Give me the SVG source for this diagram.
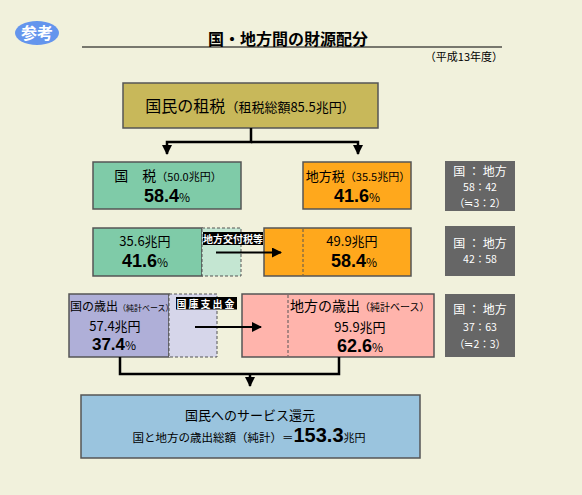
<svg xmlns="http://www.w3.org/2000/svg" width="582" height="495" viewBox="0 0 582 495">
<defs>
<style>
text{font-family:"Noto Sans CJK JP","Noto Sans",sans-serif;fill:#000}
.num{font-family:"Liberation Sans",Arial,sans-serif;font-weight:bold}
.box{stroke:#555;stroke-width:1.5}
.dash{stroke:#555;stroke-width:1;stroke-dasharray:3,2}
.gray{fill:#666666}
.gt{fill:#fff;font-size:10.5px;text-anchor:middle}
.lab{fill:#fff;font-size:10px;font-weight:bold;text-anchor:middle}
.c{fill:none;stroke:#000;stroke-width:2.5}
.a{fill:none;stroke:#000;stroke-width:2}
.mid{text-anchor:middle}
</style>
<marker id="ah" viewBox="0 0 10 10" refX="9" refY="5" markerWidth="4" markerHeight="4" orient="auto" markerUnits="strokeWidth"><path d="M0,0 L10,5 L0,10 Z" fill="#000"/></marker>
<marker id="ah2" viewBox="0 0 10 10" refX="9" refY="5" markerWidth="5" markerHeight="5" orient="auto" markerUnits="strokeWidth"><path d="M0,0 L10,5 L0,10 Z" fill="#000"/></marker>
</defs>
<rect width="582" height="495" fill="#F1F1DC"/>

<g id="badge">
<ellipse cx="37" cy="33" rx="22" ry="12" fill="#6495ED"/>
<text x="37" y="39" class="mid" style="fill:#fff;font-size:16px;font-weight:bold">参考</text>
</g>
<g id="title">
<text x="288" y="45" class="mid" style="font-size:16px;font-weight:bold">国・地方間の財源配分</text>
<line x1="82" y1="47" x2="502" y2="47" stroke="#000" stroke-width="1.2"/>
<text x="503" y="61" style="font-size:11px;text-anchor:end">（平成13年度）</text>
</g>

<g id="tax-total">
<rect class="box" x="123" y="83" width="255" height="45" fill="#C8B85A"/>
<text x="250" y="112" class="mid"><tspan style="font-size:16px">国民の租税</tspan><tspan style="font-size:13px">（租税総額85.5兆円）</tspan></text>
</g>

<g id="national-tax">
<rect class="box" x="93" y="162" width="148" height="47" fill="#7FCBA8"/>
<text x="168" y="181" class="mid"><tspan style="font-size:14px">国　税</tspan><tspan style="font-size:11px">（50.0兆円）</tspan></text>
<text x="167" y="202" class="mid"><tspan class="num" style="font-size:18px">58.4</tspan><tspan style="font-size:12px">%</tspan></text>
</g>

<g id="local-tax">
<rect class="box" x="303" y="162" width="108" height="47" fill="#FFA81C"/>
<text x="358" y="181" class="mid"><tspan style="font-size:13px">地方税</tspan><tspan style="font-size:11px">（35.5兆円）</tspan></text>
<text x="357" y="202" class="mid"><tspan class="num" style="font-size:18px">41.6</tspan><tspan style="font-size:12px">%</tspan></text>
</g>

<g id="ratio1">
<rect class="gray" x="445" y="161" width="70" height="50"/>
<text x="480" y="176" class="gt" style="font-size:12px">国 ： 地方</text>
<text x="480" y="191" class="gt">58：42</text>
<text x="480" y="207" class="gt">（≒3：2）</text>
</g>

<g id="national-after">
<rect class="box" x="93" y="228" width="109" height="48" fill="#7FCBA8"/>
<text x="145" y="246" class="mid" style="font-size:13px">35.6兆円</text>
<text x="145" y="267" class="mid"><tspan class="num" style="font-size:18px">41.6</tspan><tspan style="font-size:12px">%</tspan></text>
</g>
<g id="transfer">
<rect class="dash" x="202" y="228" width="39" height="48" fill="#C4E6D2"/>
<rect x="203" y="232" width="60" height="13" fill="#000"/>
<text x="233" y="242.5" class="lab">地方交付税等</text>
</g>
<g id="local-after">
<rect class="box" x="264" y="228" width="147" height="48" fill="#FFA81C"/>
<line class="dash" x1="303" y1="229" x2="303" y2="275"/>
<text x="352" y="246" class="mid" style="font-size:13px">49.9兆円</text>
<text x="354" y="267" class="mid"><tspan class="num" style="font-size:18px">58.4</tspan><tspan style="font-size:12px">%</tspan></text>
</g>

<g id="ratio2">
<rect class="gray" x="445" y="226" width="70" height="50"/>
<text x="480" y="248" class="gt" style="font-size:12px">国 ： 地方</text>
<text x="480" y="263" class="gt">42：58</text>
</g>

<g id="national-exp">
<rect class="box" x="69" y="294" width="100" height="63" fill="#AFAFD8"/>
<text x="70" y="311" style="font-size:12px">国の歳出<tspan style="font-size:8px">（純計ベース）</tspan></text>
<text x="115" y="331" class="mid" style="font-size:13px">57.4兆円</text>
<text x="114" y="350" class="mid"><tspan class="num" style="font-size:17px">37.4</tspan><tspan style="font-size:12px">%</tspan></text>
</g>
<g id="subsidy">
<rect class="dash" x="169" y="294" width="48" height="63" fill="#D6D6EA"/>
<rect x="176" y="297" width="61" height="12.5" fill="#000"/>
<text x="206.5" y="307.5" class="lab" style="letter-spacing:2px">国庫支出金</text>
</g>
<g id="local-exp">
<rect class="box" x="242" y="294" width="192" height="63" fill="#FFB4AC"/>
<line class="dash" x1="288" y1="295" x2="288" y2="356"/>
<text x="290" y="311" style="font-size:14px">地方の歳出<tspan style="font-size:10px">（純計ベース）</tspan></text>
<text x="360" y="332" class="mid" style="font-size:13px">95.9兆円</text>
<text x="360" y="352" class="mid"><tspan class="num" style="font-size:18px">62.6</tspan><tspan style="font-size:12px">%</tspan></text>
</g>

<g id="ratio3">
<rect class="gray" x="445" y="294" width="70" height="63"/>
<text x="480" y="314" class="gt" style="font-size:12px">国 ： 地方</text>
<text x="480" y="331" class="gt">37：63</text>
<text x="480" y="348" class="gt">（≒2：3）</text>
</g>

<g id="service">
<rect class="box" x="81" y="395" width="339" height="63" fill="#9AC4DE"/>
<text x="250" y="420" class="mid" style="font-size:13px">国民へのサービス還元</text>
<text x="249" y="442" class="mid"><tspan style="font-size:11.5px">国と地方の歳出総額（純計）＝</tspan><tspan class="num" style="font-size:20px">153.3</tspan><tspan style="font-size:11px">兆円</tspan></text>
</g>

<g id="connectors">
<polyline class="c" points="251,128 251,142 167,142 167,154" marker-end="url(#ah)"/>
<polyline class="c" points="251,142 358,142 358,154" marker-end="url(#ah)"/>
<line class="a" x1="216" y1="252.5" x2="281" y2="252.5" marker-end="url(#ah2)"/>
<line class="a" x1="195" y1="327" x2="261" y2="327" marker-end="url(#ah2)"/>
<polyline class="c" points="120,357 120,374 339,374 339,357"/>
<line class="c" x1="250" y1="374" x2="250" y2="386" marker-end="url(#ah)"/>
</g>
</svg>
